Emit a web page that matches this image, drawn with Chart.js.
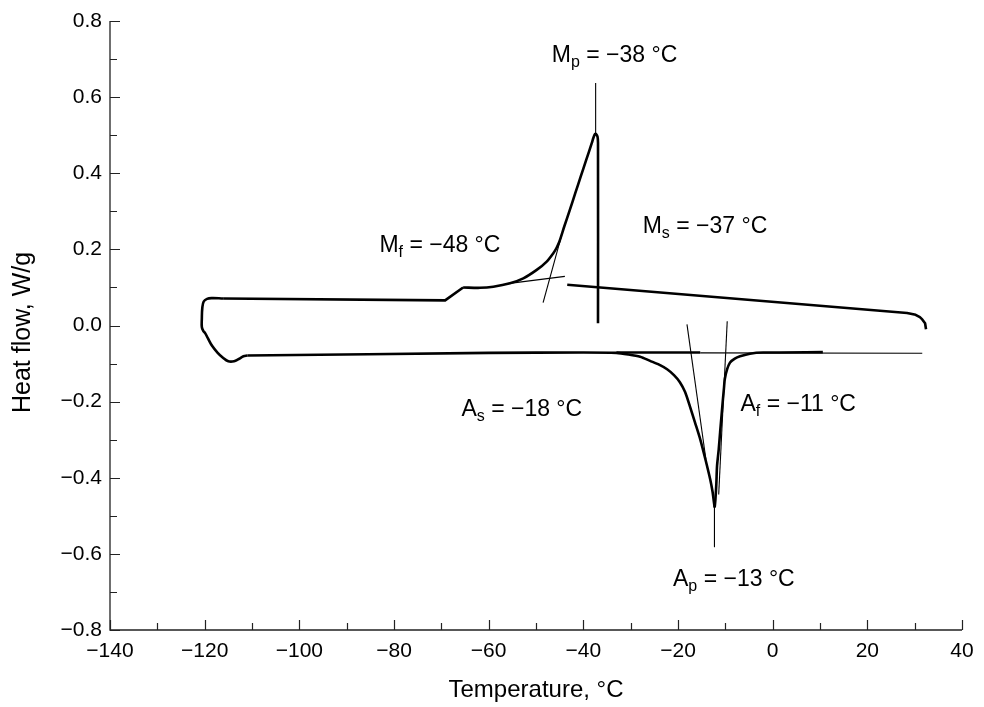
<!DOCTYPE html>
<html>
<head>
<meta charset="utf-8">
<script src="https://cdn.jsdelivr.net/npm/chart.js@4/dist/chart.umd.min.js"></script>
<style>
html,body{margin:0;padding:0;background:#fff;}
#wrap{width:984px;height:707px;position:relative;}
</style>
</head>
<body>
<div id="wrap"><canvas id="c"></canvas></div>
<script>
// ---- Data ----
// Cooling baseline (right side, 32 °C down past the Ms point)
const coolBaseT  = [32.4, 32.2, 31.6, 31.1, 30.2, 28.4, -43.4];
const coolBaseHF = [-0.010, 0.006, 0.016, 0.022, 0.028, 0.033, 0.107];

// Ms jump and exothermic martensite peak (cooling)
const peakT  = [-36.9, -36.9, -37.0, -37.3, -37.53, -37.85, -38.22, -39.39, -40.56, -41.72, -42.87, -44.03,
                -45.07, -45.70, -46.34, -47.74, -49.85, -52.68, -55.49, -59.02, -61.83, -65.4];
const peakHF = [0.006, 0.480, 0.496, 0.503, 0.503, 0.494, 0.479, 0.435, 0.391, 0.347, 0.303, 0.260,
                0.220, 0.203, 0.190, 0.168, 0.146, 0.124, 0.111, 0.102, 0.099, 0.100];

// Step and low-temperature hold
const holdT  = [-65.4, -69.2, -116.1];
const holdHF = [0.100, 0.066, 0.071];

// Turn-around at -120 °C and start of heating
const loopT  = [-116.1, -118.5, -119.5, -120.2, -120.5, -120.6, -120.6, -120.3, -119.9, -119.3,
                -118.4, -117.3, -116.2, -115.0, -113.8, -112.8, -111.8, -111.0];
const loopHF = [0.071, 0.072, 0.070, 0.063, 0.046, 0.017, -0.004, -0.014, -0.020, -0.034,
                -0.054, -0.071, -0.084, -0.094, -0.094, -0.088, -0.081, -0.079];

// Heating baseline and endothermic austenite peak
const dipLT  = [-111.0, -60.0, -40.0, -33.0, -30.5, -28.0, -25.9, -24.0, -22.3, -20.8, -19.6, -18.5,
                -17.5, -16.4, -15.3, -14.2, -13.2, -12.7, -12.4, -12.25];
const dipLHF = [-0.079, -0.072, -0.071, -0.072, -0.076, -0.082, -0.093, -0.103, -0.115, -0.131, -0.149,
                -0.175, -0.212, -0.255, -0.299, -0.352, -0.404, -0.437, -0.465, -0.478];
const dipRT  = [-12.25, -12.1, -11.9, -11.75, -11.4, -11.1, -10.8, -10.5, -10.3, -10.1, -9.6, -9.0,
                -8.0, -6.9, -4.8, -2.0, 10.6];
const dipRHF = [-0.478, -0.458, -0.416, -0.369, -0.326, -0.280, -0.236, -0.193, -0.166, -0.140, -0.114,
                -0.097, -0.087, -0.081, -0.074, -0.071, -0.070];

// Onset / peak construction lines
const mfBaseT   = [-56.0, -43.9];  const mfBaseHF   = [0.110, 0.129];
const mfSteepT  = [-48.5, -44.7];  const mfSteepHF  = [0.060, 0.232];
const mpLineT   = [-37.4, -37.4];  const mpLineHF   = [0.505, 0.637];
const asThickT  = [-33.0, -15.3];  const asThickHF  = [-0.071, -0.071];
const asBaseT   = [-15.3, 31.6];   const asBaseHF   = [-0.072, -0.073];
const asSteepT  = [-18.1, -14.1];  const asSteepHF  = [0.003, -0.352];
const afSteepT  = [-9.6, -11.4];   const afSteepHF  = [0.011, -0.444];
const apLineT   = [-12.3, -12.3];  const apLineHF   = [-0.477, -0.581];

// Axis ticks
const xMin = -140, xMax = 40, xMajor = 20, xMinor = 10;
const yMin = -0.8, yMax = 0.8, yMajor = 0.2, yMinor = 0.1;

// Annotation labels: [letter, subscript, rest, centre T, centre HF]
const labels = [
  ["M", "p", " = \u221238 \u00B0C", -33.4, 0.712],
  ["M", "s", " = \u221237 \u00B0C", -14.3, 0.265],
  ["M", "f", " = \u221248 \u00B0C", -70.3, 0.215],
  ["A", "s", " = \u221218 \u00B0C", -53.0, -0.218],
  ["A", "f", " = \u221211 \u00B0C", 5.4, -0.203],
  ["A", "p", " = \u221213 \u00B0C", -8.2, -0.664]
];

const toPts = (xs, ys) => xs.map((x, i) => ({x: x, y: ys[i]}));
const FONT = "'Liberation Sans', Arial, Helvetica, sans-serif";

function ds(xs, ys, w, t) {
  return {data: toPts(xs, ys), showLine: true, borderColor: '#000', borderWidth: w,
          pointRadius: 0, pointHoverRadius: 0, tension: t || 0, fill: false,
          borderCapStyle: 'butt', borderJoinStyle: 'round'};
}

const axesPlugin = {
  id: 'axesPlugin',
  afterDraw(chart) {
    const ctx = chart.ctx, xs = chart.scales.x, ys = chart.scales.y, a = chart.chartArea;
    ctx.save();
    ctx.strokeStyle = '#222';
    ctx.lineWidth = 1.3;
    ctx.beginPath();
    ctx.moveTo(a.left, a.top); ctx.lineTo(a.left, a.bottom); ctx.lineTo(a.right, a.bottom);
    ctx.stroke();
    ctx.lineWidth = 1.2;
    ctx.beginPath();
    xs.ticks.forEach(t => {
      const px = Math.round(xs.getPixelForValue(t.value)) + 0.5;
      const major = Math.abs(Math.round(t.value / xMajor) * xMajor - t.value) < 1e-6;
      const len = major ? 10 : 7;
      ctx.moveTo(px, a.bottom); ctx.lineTo(px, a.bottom - len);
    });
    ys.ticks.forEach(t => {
      const py = Math.round(ys.getPixelForValue(t.value)) + 0.5;
      const major = Math.abs(Math.round(t.value / yMajor) * yMajor - t.value) < 1e-6;
      const len = major ? 10 : 7;
      ctx.moveTo(a.left, py); ctx.lineTo(a.left + len, py);
    });
    ctx.stroke();

    // annotations
    ctx.fillStyle = '#000';
    ctx.textBaseline = 'alphabetic';
    const big = 23, small = 16;
    labels.forEach(l => {
      ctx.font = big + 'px ' + FONT;
      const w1 = ctx.measureText(l[0]).width;
      const w3 = ctx.measureText(l[2]).width;
      ctx.font = small + 'px ' + FONT;
      const w2 = ctx.measureText(l[1]).width;
      const total = w1 + w2 + w3;
      const cx = xs.getPixelForValue(l[3]);
      const cy = ys.getPixelForValue(l[4]);
      let x = cx - total / 2;
      const base = cy + 8;
      ctx.font = big + 'px ' + FONT;
      ctx.fillText(l[0], x, base); x += w1;
      ctx.font = small + 'px ' + FONT;
      ctx.fillText(l[1], x, base + 5); x += w2;
      ctx.font = big + 'px ' + FONT;
      ctx.fillText(l[2], x, base);
    });
    ctx.restore();
  }
};

new Chart(document.getElementById('c'), {
  type: 'scatter',
  data: {
    datasets: [
      ds(coolBaseT, coolBaseHF, 2.6),
      ds(peakT, peakHF, 2.6, 0.3),
      ds(holdT, holdHF, 2.6),
      ds(loopT, loopHF, 2.6, 0.4),
      ds(dipLT, dipLHF, 2.6, 0.25),
      ds(dipRT, dipRHF, 2.6, 0.25),
      ds(asThickT, asThickHF, 2.6),
      ds(mfBaseT, mfBaseHF, 1.1),
      ds(mfSteepT, mfSteepHF, 1.1),
      ds(mpLineT, mpLineHF, 1.1),
      ds(asBaseT, asBaseHF, 1.1),
      ds(asSteepT, asSteepHF, 1.1),
      ds(afSteepT, afSteepHF, 1.1),
      ds(apLineT, apLineHF, 1.1)
    ]
  },
  options: {
    responsive: true,
    maintainAspectRatio: false,
    animation: false,
    events: [],
    layout: {padding: {left: 0, right: 22, top: 21, bottom: 0}},
    plugins: {legend: {display: false}, tooltip: {enabled: false}},
    scales: {
      x: {
        type: 'linear', min: xMin, max: xMax,
        grid: {display: false, drawTicks: false},
        border: {display: false},
        ticks: {
          stepSize: xMinor, color: '#000', padding: 9, maxRotation: 0, autoSkip: false,
          font: {family: FONT, size: 21},
          callback: v => (Math.abs(v % xMajor) < 1e-6 ? (v < 0 ? '\u2212' : '') + Math.abs(v) : '')
        },
        title: {display: true, text: 'Temperature, \u00B0C', color: '#000',
                font: {family: FONT, size: 24, lineHeight: 1.2}, padding: {top: 0, bottom: 2}},
        afterFit: s => { s.height = 77; }
      },
      y: {
        type: 'linear', min: yMin, max: yMax,
        grid: {display: false, drawTicks: false},
        border: {display: false},
        ticks: {
          stepSize: yMinor, color: '#000', padding: 8, autoSkip: false,
          font: {family: FONT, size: 21},
          callback: v => {
            const r = Math.round(v * 10);
            if (r % 2 !== 0) return '';
            return (r < 0 ? '\u2212' : '') + Math.abs(r / 10).toFixed(1);
          }
        },
        title: {display: true, text: 'Heat flow, W/g  ', color: '#000',
                font: {family: FONT, size: 25, lineHeight: 1.2}, padding: {top: 8, bottom: 0}},
        afterFit: s => { s.width = 110; }
      }
    }
  },
  plugins: [axesPlugin]
});
</script>
</body>
</html>
